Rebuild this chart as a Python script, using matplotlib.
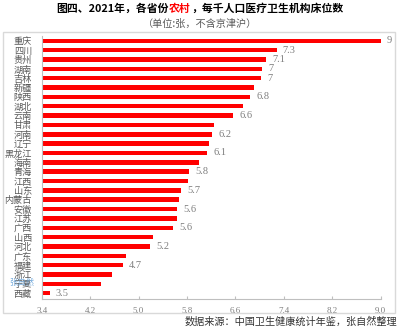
import matplotlib
matplotlib.use("Agg")
import matplotlib.pyplot as plt
from matplotlib.patches import Rectangle

plt.rcParams['font.family'] = ['Noto Sans CJK SC', 'DejaVu Sans']

provinces = ["重庆", "四川", "贵州", "湖南", "吉林", "新疆", "陕西", "湖北", "云南", "甘肃",
             "河南", "辽宁", "黑龙江", "海南", "青海", "江西", "山东", "内蒙古", "安徽", "江苏",
             "广西", "山西", "河北", "广东", "福建", "浙江", "宁夏", "西藏"]
beds = [9.0, 7.28, 7.11, 7.04, 7.02, 6.90, 6.84, 6.72, 6.56, 6.24,
        6.21, 6.16, 6.13, 6.00, 5.83, 5.82, 5.70, 5.67, 5.63, 5.63,
        5.57, 5.24, 5.19, 4.80, 4.74, 4.56, 4.38, 3.53]
labeled = ["重庆", "四川", "贵州", "湖南", "吉林", "陕西", "云南", "河南", "黑龙江", "青海",
           "山东", "安徽", "广西", "河北", "福建", "西藏"]
xticks = [3.4, 4.2, 5.0, 5.8, 6.6, 7.4, 8.2, 9.0]

W, H = 400, 329
fig = plt.figure(figsize=(W / 100, H / 100), dpi=100)

# outer frame
fig.add_artist(Rectangle((3 / W, 1 - 313 / H), 392 / W, 281 / H, transform=fig.transFigure,
                         fill=False, edgecolor="#d9d9d9", linewidth=1.0))

ax = fig.add_axes([41.7 / W, 1 - 298.5 / H, (380.7 - 41.7) / W, (298.5 - 35.5) / H])
y = list(range(len(provinces)))
ax.barh(y, [b - 3.4 for b in beds], left=3.4, height=0.48, color="#ff0000")
ax.set_ylim(len(provinces) - 0.43, -0.57)
ax.set_xlim(3.4, 9.0)
ax.set_xticks(xticks)
ax.set_xticklabels([f"{t:.1f}" for t in xticks], family=["Liberation Serif", "DejaVu Serif"],
                   fontsize=6.5, color="#7f7f7f")
ax.set_yticks(y)
ax.set_yticklabels(provinces, fontsize=6.6, color="#595959")
ax.tick_params(axis="y", length=0, pad=7)
ax.tick_params(axis="x", direction="in", length=2.5, color="#bfbfbf", pad=6)
for s in ["top", "right"]:
    ax.spines[s].set_visible(False)
for s in ["left", "bottom"]:
    ax.spines[s].set_color("#bfbfbf")
    ax.spines[s].set_linewidth(0.8)

for i, (p, b) in enumerate(zip(provinces, beds)):
    if p in labeled:
        r = round(b, 1)
        txt = f"{int(r)}" if abs(r - int(r)) < 1e-9 else f"{r:.1f}"
        ax.annotate(txt, (b, i), xytext=(4.5, 0), textcoords="offset points",
                    va="center", ha="left", fontsize=7.5, color="#7f7f7f",
                    family=["Liberation Serif", "DejaVu Serif"])

# title with red part
parts = [("图四、2021年，各省份", "#000000"), ("农村", "#ff0000"), ("，每千人口医疗卫生机构床位数", "#000000")]
fig.canvas.draw()
renderer = fig.canvas.get_renderer()
texts = []
x = 0
for s, c in parts:
    t = fig.text(x, 1 - 9 / H, s, color=c, fontsize=7.8, fontweight="bold", ha="left", va="center")
    w = t.get_window_extent(renderer).width / W
    texts.append((t, x))
    x += w
total = x
x0 = 0.5 - total / 2
for t, off in texts:
    t.set_x(x0 + off)

fig.text(0.5, 1 - 24 / H, "（单位:张，不含京津沪）", color="#595959", fontsize=7.3, ha="center", va="center")
fig.text(397 / W, 1 - 322 / H, "数据来源：中国卫生健康统计年鉴，张自然整理", color="#333333",
         fontsize=7.3, ha="right", va="center")
fig.text(22 / W, 1 - 282 / H, "张自然", color="#6fa8dc", fontsize=6, ha="center", va="center", alpha=0.9)

fig.savefig("out.png", dpi=100)
